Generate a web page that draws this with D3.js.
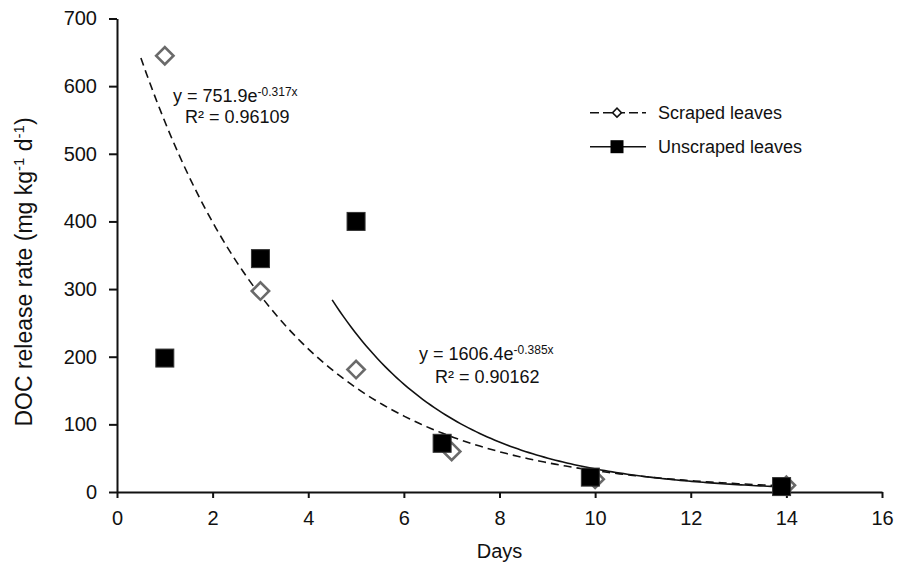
<!DOCTYPE html>
<html>
<head>
<meta charset="utf-8">
<script src="https://cdn.jsdelivr.net/npm/d3@7"></script>
<style>
  html, body { margin: 0; padding: 0; background: #fff; }
  svg text { font-family: "Liberation Sans", Arial, sans-serif; fill: #111; }
</style>
</head>
<body>
<svg id="chart" width="898" height="572"></svg>
<script>
// ---- data ----
const scrapedDays = [1, 3, 5, 7, 10, 14];
const scrapedVals = [645, 297, 181, 60, 19, 10];
const unscrapedDays = [1, 3, 5, 6.8, 9.9, 13.9];
const unscrapedVals = [198, 345, 400, 72, 22, 8];
// exponential trend lines y = a * e^(b x), shown in the chart
const scrapedFit = { a: 751.9, b: -0.317, from: 0.5, to: 14 };
const unscrapedFit = { a: 1606.4, b: -0.385, from: 4.5, to: 14 };
const xTicks = [0, 2, 4, 6, 8, 10, 12, 14, 16];
const yTicks = [0, 100, 200, 300, 400, 500, 600, 700];
const seriesNames = ["Scraped leaves", "Unscraped leaves"];

// ---- layout ----
const svg = d3.select("#chart");
const x = d3.scaleLinear().domain([0, 16]).range([117, 882]);
const y = d3.scaleLinear().domain([0, 700]).range([492, 18.5]);

// axes
const xAxis = d3.axisBottom(x).tickValues(xTicks).tickSizeOuter(0).tickSizeInner(6).tickPadding(13);
const yAxis = d3.axisLeft(y).tickValues(yTicks).tickSizeOuter(0).tickSizeInner(8).tickPadding(12);

const gx = svg.append("g").attr("transform", `translate(0,${y(0)})`).call(xAxis);
const gy = svg.append("g").attr("transform", `translate(${x(0)},0)`).call(yAxis);
[gx, gy].forEach(g => {
  g.select(".domain").attr("stroke", "#111").attr("stroke-width", 2);
  g.selectAll(".tick line").attr("stroke", "#111").attr("stroke-width", 2);
  g.selectAll(".tick text").style("font-size", "20px").attr("fill", "#111")
    .style("font-family", '"Liberation Sans", Arial, sans-serif');
});

// axis titles
svg.append("text").attr("x", (x(0) + x(16)) / 2).attr("y", 558)
  .attr("text-anchor", "middle").style("font-size", "20px").text("Days");

const yt = svg.append("text")
  .attr("transform", `translate(32,272) rotate(-90)`)
  .attr("text-anchor", "middle").style("font-size", "23px");
yt.append("tspan").text("DOC release rate (mg kg");
yt.append("tspan").attr("dy", -8).style("font-size", "15px").text("-1");
yt.append("tspan").attr("dy", 8).text(" d");
yt.append("tspan").attr("dy", -8).style("font-size", "15px").text("-1");
yt.append("tspan").attr("dy", 8).text(")");

// trend lines
function fitPoints(f) {
  const n = 120, pts = [];
  for (let i = 0; i <= n; i++) {
    const xv = f.from + (f.to - f.from) * i / n;
    pts.push([xv, f.a * Math.exp(f.b * xv)]);
  }
  return pts;
}
const line = d3.line().x(d => x(d[0])).y(d => y(d[1]));
svg.append("path").datum(fitPoints(scrapedFit)).attr("d", line)
  .attr("fill", "none").attr("stroke", "#111").attr("stroke-width", 1.6)
  .attr("stroke-dasharray", "8,5");
svg.append("path").datum(fitPoints(unscrapedFit)).attr("d", line)
  .attr("fill", "none").attr("stroke", "#111").attr("stroke-width", 1.6);

// markers
const diamond = d3.symbol().type(d3.symbolSquare).size(150);
const scraped = scrapedDays.map((d, i) => [d, scrapedVals[i]]);
const unscraped = unscrapedDays.map((d, i) => [d, unscrapedVals[i]]);

svg.append("g").selectAll("path").data(scraped).join("path")
  .attr("d", diamond)
  .attr("transform", d => `translate(${x(d[0])},${y(d[1])}) rotate(45)`)
  .attr("fill", "#fff").attr("stroke", "#6a6a6a").attr("stroke-width", 2.6);

svg.append("g").selectAll("rect").data(unscraped).join("rect")
  .attr("x", d => x(d[0]) - 9).attr("y", d => y(d[1]) - 9)
  .attr("width", 18).attr("height", 18)
  .attr("fill", "#000").attr("stroke", "#333").attr("stroke-width", 1);

// equations
function equation(xp, yp, a, expo) {
  const t = svg.append("text").attr("x", xp).attr("y", yp).style("font-size", "18px");
  t.append("tspan").text(`y = ${a}e`);
  t.append("tspan").attr("dy", -6).style("font-size", "12px").text(expo);
}
equation(173, 102, "751.9", "-0.317x");
svg.append("text").attr("x", 185).attr("y", 123).style("font-size", "18px").text("R² = 0.96109");
equation(419, 360, "1606.4", "-0.385x");
svg.append("text").attr("x", 435).attr("y", 383).style("font-size", "18px").text("R² = 0.90162");

// legend
const lg = svg.append("g");
const rows = [112.7, 146.7];
lg.append("line").attr("x1", 590).attr("x2", 646).attr("y1", rows[0]).attr("y2", rows[0])
  .attr("stroke", "#111").attr("stroke-width", 1.6).attr("stroke-dasharray", "9,4");
lg.append("path").attr("d", d3.symbol().type(d3.symbolSquare).size(40))
  .attr("transform", `translate(617,${rows[0]}) rotate(45)`)
  .attr("fill", "#fff").attr("stroke", "#111").attr("stroke-width", 1.6);
lg.append("line").attr("x1", 590).attr("x2", 646).attr("y1", rows[1]).attr("y2", rows[1])
  .attr("stroke", "#111").attr("stroke-width", 1.6);
lg.append("rect").attr("x", 617 - 6.5).attr("y", rows[1] - 6.5).attr("width", 13).attr("height", 13)
  .attr("fill", "#000");
seriesNames.forEach((name, i) => {
  lg.append("text").attr("x", 658).attr("y", rows[i] + 6).style("font-size", "18px").text(name);
});
</script>
</body>
</html>
